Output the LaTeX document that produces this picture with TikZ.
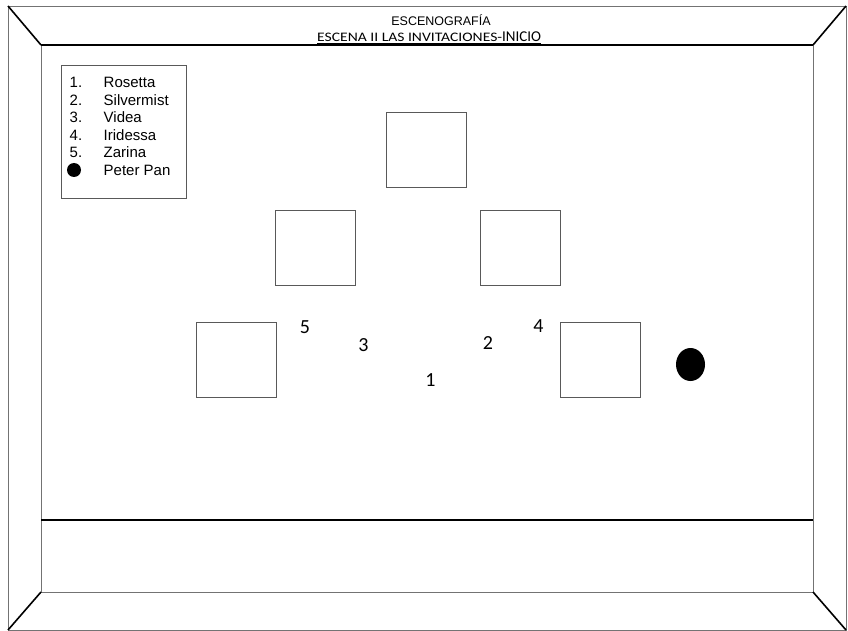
\documentclass[tikz,border=0pt]{standalone}
\usepackage{fontspec}
\setmainfont{Liberation Sans}
\newfontfamily\calib{Carlito}
\usetikzlibrary{positioning,calc,shapes.geometric}
\tikzset{
  wall/.style={draw=black!55, line width=0.8pt},
  edge/.style={draw=black, line width=1.6pt},
  prop/.style={rectangle, draw=black!65, line width=0.9pt, minimum width=80pt, minimum height=75pt, inner sep=0pt},
  posnum/.style={font=\calib\fontsize{20}{22}\selectfont, inner sep=0pt},
  legline/.style={font=\fontsize{15}{16}\selectfont, anchor=west, inner sep=0pt},
  actor/.style={circle, fill=black, inner sep=0pt},
}

\begin{document}
\begin{tikzpicture}[x=1pt, y=-1pt]
  \useasboundingbox (0,0) rectangle (848,631);
  % stage frame
  \coordinate (otl) at (8,6);    \coordinate (otr) at (846,6);
  \coordinate (obl) at (8,630);  \coordinate (obr) at (846,630);
  \coordinate (itl) at (41,45);  \coordinate (itr) at (813,45);
  \coordinate (ibl) at (41,592); \coordinate (ibr) at (813,592);
  \draw[wall] (otl) rectangle (obr);
  \draw[wall] (itl) rectangle (ibr);
  \draw[edge, line width=1.3pt] (itl) -- (itr);
  \draw[edge] (otl) -- (itl);
  \draw[edge] (otr) -- (itr);
  \draw[edge] (obl) -- (ibl);
  \draw[edge] (obr) -- (ibr);
  \coordinate (fl) at (41,520); \coordinate (fr) at (813,520);
  \draw[edge, line width=2pt] (fl) -- (fr);
  % title
  \node[font=\fontsize{12.5}{13}\selectfont, inner sep=0pt, anchor=base] (title) at (441,26) {ESCENOGRAF\'IA};
  \node[font=\calib\fontsize{13}{14}\selectfont, inner sep=0pt, anchor=base west] (subtitle) at (317,41.5)
    {\underline{\scalebox{1.2}[1]{ESCENA II LAS INVITACIONES-}{\fontsize{15}{16}\selectfont INICIO}}};
  % legend
  \node[rectangle, draw=black!65, line width=0.8pt, minimum width=125pt, minimum height=133pt,
    inner sep=0pt, anchor=north west] (legend) at (61,65) {};
  \foreach \n/\who [count=\i] in {1/Rosetta, 2/Silvermist, 3/Videa, 4/Iridessa, 5/Zarina} {
    \node[legline] (num\i) at (69.5,82.5+17.5*\i-17.5) {\n.};
    \node[legline] (who\i) at (103.5,82.5+17.5*\i-17.5) {\who};
  }
  \node[actor, minimum size=14pt] (dot) at (74,170) {};
  \node[legline] (who6) at (103.5,170) {Peter Pan};
  % props on stage
  \node[prop] (sqtop)  at (426.5,150) {};
  \node[prop] (sqmidl) at (315.5,248) {};
  \node[prop] (sqmidr) at (520,248) {};
  \node[prop] (sqlowl) at (236,360) {};
  \node[prop] (sqlowr) at (600,360) {};
  % positions
  \node[posnum] (p5) at (305,327.5) {5};
  \node[posnum] (p3) at (363.5,345.5) {3};
  \node[posnum] (p2) at (488,343.5) {2};
  \node[posnum] (p4) at (538.5,326.5) {4};
  \node[posnum] (p1) at (430.5,380.5) {1};
  \node[ellipse, fill=black, inner sep=0pt, minimum width=29pt, minimum height=33pt] (peter) at (690.5,364.5) {};
\end{tikzpicture}
\end{document}
